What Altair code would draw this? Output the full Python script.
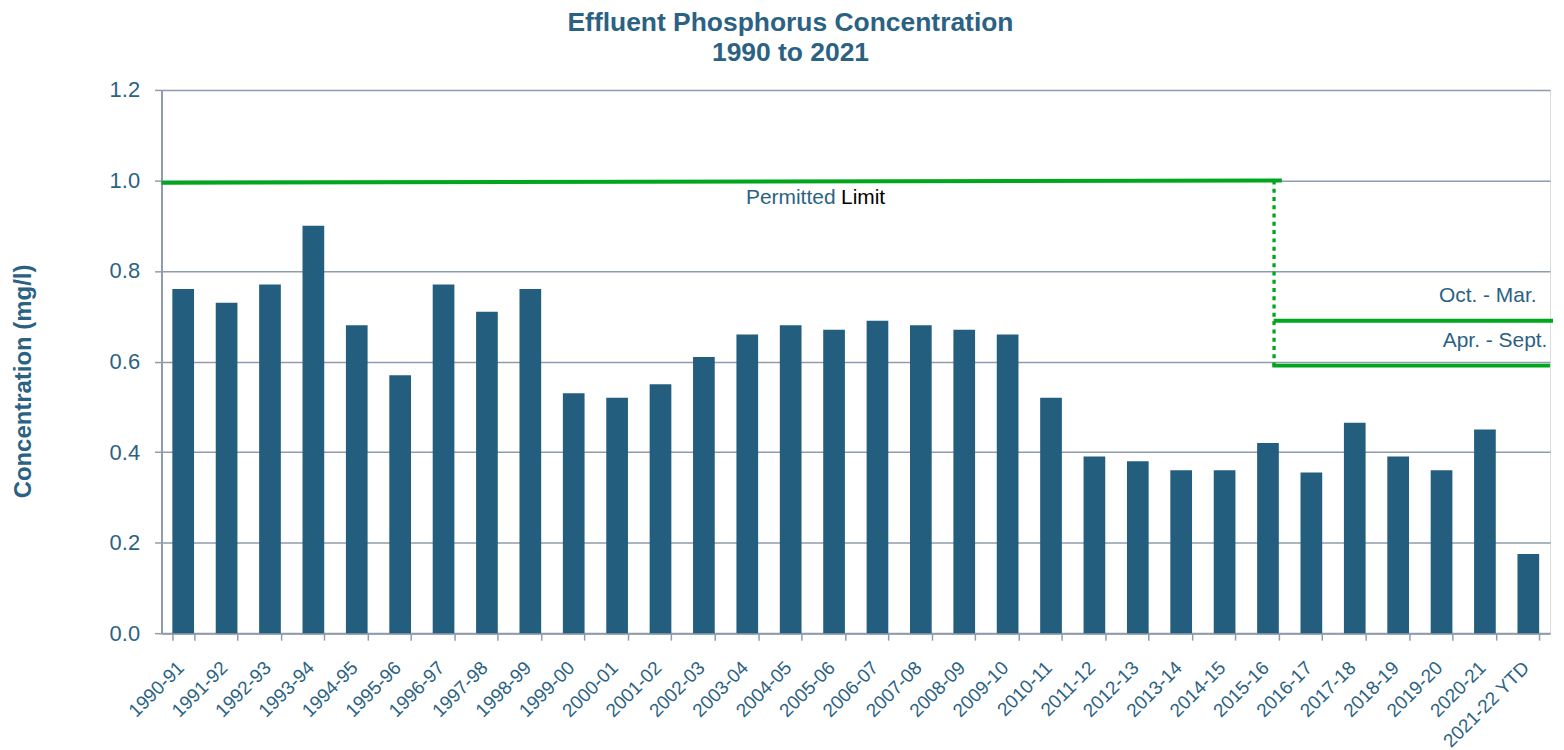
import altair as alt
import pandas as pd

# ---- data ----
years = ["1990-91", "1991-92", "1992-93", "1993-94", "1994-95", "1995-96", "1996-97",
         "1997-98", "1998-99", "1999-00", "2000-01", "2001-02", "2002-03", "2003-04",
         "2004-05", "2005-06", "2006-07", "2007-08", "2008-09", "2009-10", "2010-11",
         "2011-12", "2012-13", "2013-14", "2014-15", "2015-16", "2016-17", "2017-18",
         "2018-19", "2019-20", "2020-21", "2021-22 YTD"]
concentration = [0.76, 0.73, 0.77, 0.90, 0.68, 0.57, 0.77, 0.71, 0.76, 0.53,
                 0.52, 0.55, 0.61, 0.66, 0.68, 0.67, 0.69, 0.68, 0.67, 0.66,
                 0.52, 0.39, 0.38, 0.36, 0.36, 0.42, 0.355, 0.465, 0.39, 0.36,
                 0.45, 0.175]

# permit limit segments (x in category units: 0 = left edge, 32 = right edge)
solid_x_start = [0.0, 25.63, 25.60]
solid_x_end = [25.82, 32.07, 32.00]
solid_y_start = [0.995, 0.69, 0.591]
solid_y_end = [1.0, 0.69, 0.591]

dotted_x_start = [25.64]
dotted_x_end = [25.64]
dotted_y_start = [1.0]
dotted_y_end = [0.59]

left_labels = ["Permitted", "Limit"]
left_label_x = [13.47, 15.66]
left_label_y = [0.948, 0.948]
left_label_color = ["#2b6283", "#000000"]

right_labels = ["Oct. - Mar.", "Apr. - Sept."]
right_label_x = [31.69, 31.94]
right_label_y = [0.731, 0.632]

BLUE = "#245e7f"
TEXT = "#2b6283"
GREEN = "#00a61c"
GRAY = "#8e9cad"
FONT = "Liberation Sans"

bars_df = pd.DataFrame({"year": years, "value": concentration})
solid_df = pd.DataFrame({"x": solid_x_start, "x2": solid_x_end, "y": solid_y_start, "y2": solid_y_end})
dotted_df = pd.DataFrame({"x": dotted_x_start, "x2": dotted_x_end, "y": dotted_y_start, "y2": dotted_y_end})
left_df = pd.DataFrame({"t": left_labels, "x": left_label_x, "y": left_label_y, "c": left_label_color})
right_df = pd.DataFrame({"t": right_labels, "x": right_label_x, "y": right_label_y})

yscale = alt.Scale(domain=[0, 1.2], nice=False)
qx = alt.Scale(domain=[0, 32], nice=False, zero=False)

bars = alt.Chart(bars_df).mark_bar(color=BLUE).encode(
    x=alt.X("year:N", sort=years,
            scale=alt.Scale(paddingInner=0.5, paddingOuter=0.25),
            axis=alt.Axis(title=None, labelAngle=-45, labelFont=FONT, labelFontSize=19,
                          labelColor=TEXT, tickBand="extent", tickSize=7, tickColor=GRAY,
                          tickWidth=1.5, domainColor=GRAY, domainWidth=2, labelPadding=18,
                          labelOffset=-9, grid=False)),
    y=alt.Y("value:Q", scale=yscale,
            axis=alt.Axis(values=[0, 0.2, 0.4, 0.6, 0.8, 1.0, 1.2], format=".1f",
                          title="Concentration (mg/l)", titleFont=FONT, titleFontSize=24,
                          titleFontWeight="bold", titleColor=TEXT, titleX=-126, titleY=292,
                          labelFont=FONT, labelFontSize=22, labelColor=TEXT, labelPadding=15,
                          tickSize=7, tickColor=GRAY, tickWidth=1.5, domainColor=GRAY,
                          domainWidth=2, grid=True, gridColor=GRAY, gridWidth=1.5)),
)

solid = alt.Chart(solid_df).mark_rule(color=GREEN, strokeWidth=4).encode(
    x=alt.X("x:Q", scale=qx, axis=None), x2="x2:Q",
    y=alt.Y("y:Q", scale=yscale), y2="y2:Q")

dotted = alt.Chart(dotted_df).mark_rule(color=GREEN, strokeWidth=3.3, strokeDash=[4, 4.3]).encode(
    x=alt.X("x:Q", scale=qx, axis=None), x2="x2:Q",
    y=alt.Y("y:Q", scale=yscale), y2="y2:Q")

left_text = alt.Chart(left_df).mark_text(align="left", baseline="alphabetic", font=FONT, fontSize=21).encode(
    x=alt.X("x:Q", scale=qx, axis=None),
    y=alt.Y("y:Q", scale=yscale),
    text="t:N",
    color=alt.Color("c:N", scale=None))

right_text = alt.Chart(right_df).mark_text(align="right", baseline="alphabetic", font=FONT, fontSize=21,
                                            color=TEXT).encode(
    x=alt.X("x:Q", scale=qx, axis=None),
    y=alt.Y("y:Q", scale=yscale),
    text="t:N")

chart = alt.layer(bars, solid, dotted, left_text, right_text).resolve_scale(
    x="independent"
).properties(
    width=1393, height=545,
    autosize=alt.AutoSizeParams(type="none"),
    padding={"left": 154, "top": 81, "right": 6, "bottom": 116},
    title=alt.TitleParams(["Effluent Phosphorus Concentration", "1990 to 2021"],
                          font=FONT, fontSize=26.5, fontWeight="bold", color=TEXT,
                          anchor="middle", frame="bounds", lineHeight=30, offset=13, dx=7),
).configure_view(stroke=None).configure(background="white")

chart.save("out.html", embed_options={"renderer": "svg", "actions": False})
